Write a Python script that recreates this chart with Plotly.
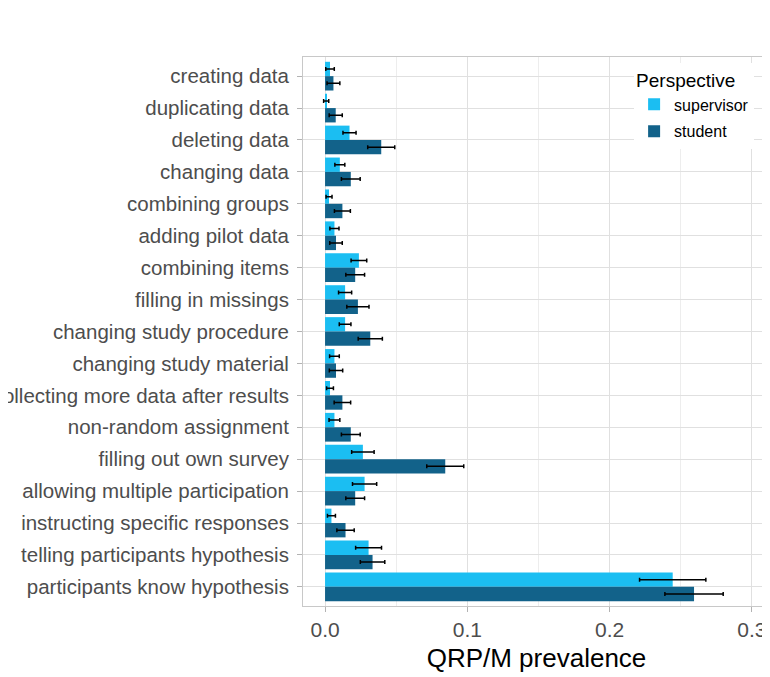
import plotly.graph_objects as go

categories = [
    "creating data", "duplicating data", "deleting data", "changing data",
    "combining groups", "adding pilot data", "combining items", "filling in missings",
    "changing study procedure", "changing study material",
    "collecting more data after results", "non-random assignment",
    "filling out own survey", "allowing multiple participation",
    "instructing specific responses", "telling participants hypothesis",
    "participants know hypothesis",
]
supervisor = [0.0035, 0.0008, 0.0172, 0.0104, 0.0028, 0.0066, 0.0238, 0.0141, 0.0141,
              0.0066, 0.0035, 0.0066, 0.0266, 0.0278, 0.0045, 0.0306, 0.2444]
supervisor_err = [0.0030, 0.0018, 0.0046, 0.0035, 0.0021, 0.0032, 0.0055, 0.0046, 0.0041,
                  0.0034, 0.0024, 0.0038, 0.0079, 0.0085, 0.0028, 0.0091, 0.0233]
student = [0.0059, 0.0075, 0.0395, 0.0181, 0.0122, 0.0077, 0.0212, 0.0231, 0.0318,
           0.0077, 0.0122, 0.0181, 0.0845, 0.0212, 0.0144, 0.0334, 0.2594]
student_err = [0.0045, 0.0046, 0.0095, 0.0066, 0.0056, 0.0044, 0.0066, 0.0078, 0.0085,
               0.0047, 0.0058, 0.0066, 0.0130, 0.0066, 0.0061, 0.0086, 0.0205]
x_ticks = [0.0, 0.1, 0.2, 0.3]
x_tick_labels = ["0.0", "0.1", "0.2", "0.3"]

SUP_COLOR = "#1BBEF2"
STU_COLOR = "#12628A"
FONT = "Liberation Sans, Arial, sans-serif"

fig = go.Figure()
fig.add_trace(go.Bar(
    y=categories, x=supervisor, orientation="h", name="supervisor",
    legendgroup="supervisor",
    marker=dict(color=SUP_COLOR, line=dict(width=0)),
    error_x=dict(type="data", array=supervisor_err, color="black", thickness=1.5, width=2),
))
fig.add_trace(go.Bar(
    y=categories, x=student, orientation="h", name="student",
    legendgroup="student",
    marker=dict(color=STU_COLOR, line=dict(width=0)),
    error_x=dict(type="data", array=student_err, color="black", thickness=1.5, width=2),
))

# page body adds an 8px offset; figure is sized to fill the rest of the window
fig.update_layout(
    width=762, height=669,
    margin=dict(l=295, r=0, t=49, b=71, autoexpand=False),
    paper_bgcolor="white", plot_bgcolor="white",
    barmode="group", bargap=0.1, bargroupgap=0,
    font=dict(family=FONT, color="#4D4D4D", size=20.5),
    legend=dict(
        title=dict(text="Perspective", font=dict(size=19, color="black")),
        font=dict(size=16, color="black"),
        x=0.709, y=0.9895, xanchor="left", yanchor="top",
        bgcolor="white", borderwidth=0, tracegroupgap=3,
    ),
    xaxis=dict(
        range=[-0.0155, 0.3128],
        tickvals=x_ticks, ticktext=x_tick_labels,
        showgrid=True, gridcolor="#E0E0E0", gridwidth=1,
        minor=dict(dtick=0.05, showgrid=True, gridcolor="#EDEDED", gridwidth=0.7),
        ticks="outside", ticklen=5, tickcolor="#B3B3B3",
        tickfont=dict(size=21, color="#4D4D4D"),
        zeroline=False, automargin=False,
        showline=True, linecolor="#C8C8C8", linewidth=1, mirror=True,
        title=dict(text="QRP/M prevalence", font=dict(size=26, color="black"), standoff=8),
    ),
    yaxis=dict(
        range=[16.6, -0.6],
        type="category",
        showgrid=True, gridcolor="#E0E0E0", gridwidth=1,
        ticks="outside", ticklen=5, tickcolor="#B3B3B3",
        tickfont=dict(size=20.5, color="#4D4D4D"),
        ticklabelstandoff=4,
        zeroline=False, automargin=False,
        showline=True, linecolor="#C8C8C8", linewidth=1, mirror=True,
    ),
)

fig.write_html("out.html")
